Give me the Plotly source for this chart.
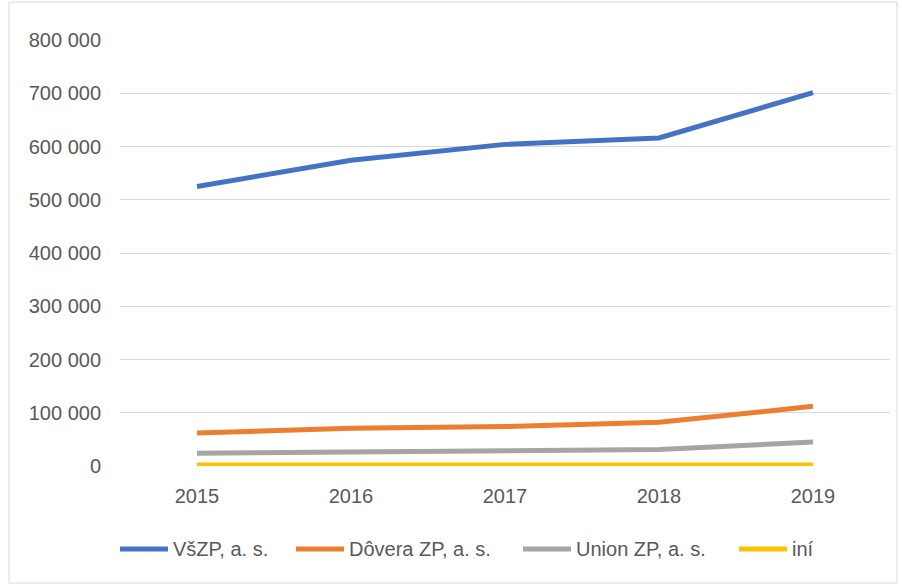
import plotly.graph_objects as go

years = ["2015", "2016", "2017", "2018", "2019"]
vszp = [525000, 574000, 604000, 616000, 701000]
dovera = [62000, 71000, 74000, 82000, 112000]
union = [24000, 26000, 28000, 31000, 45000]
ini = [2000, 1500, 2000, 2000, 2000]

names = ["VšZP, a. s.", "Dôvera ZP, a. s.", "Union ZP, a. s.", "iní"]
values = [vszp, dovera, union, ini]
colors = ["#4472C4", "#ED7D31", "#A5A5A5", "#FFC000"]

tickvals = [0, 100000, 200000, 300000, 400000, 500000, 600000, 700000, 800000]
ticktext = ["0", "100 000", "200 000", "300 000", "400 000", "500 000", "600 000", "700 000", "800 000"]

FONT = "Liberation Sans, Arial, sans-serif"
TXT = "#595959"

fig = go.Figure()
for name, vals, color in zip(names, values, colors):
    fig.add_trace(go.Scatter(x=years, y=vals, name=name, mode="lines",
                             line=dict(color=color, width=5), showlegend=False))

W, H = 902, 585
ml, mr, mt, mb = 120, 12, 40, 119
pw, ph = W - ml - mr, H - mt - mb

def px_x(x):
    return (x - ml) / pw

def px_y(y):
    return (H - mb - y) / ph

# custom legend (line samples + labels) placed like the reference
legend_starts = [118, 294, 521, 737]
leg_y = 549
shapes = [dict(type="rect", xref="paper", yref="paper",
               x0=px_x(9), x1=px_x(897), y0=px_y(583), y1=px_y(2),
               line=dict(color="#D9D9D9", width=1), layer="below")]
annotations = []
for name, color, x0 in zip(names, colors, legend_starts):
    shapes.append(dict(type="line", xref="paper", yref="paper",
                       x0=px_x(x0 + 2), x1=px_x(x0 + 50), y0=px_y(leg_y), y1=px_y(leg_y),
                       line=dict(color=color, width=5)))
    annotations.append(dict(xref="paper", yref="paper", x=px_x(x0 + 53), y=px_y(leg_y),
                            xanchor="left", yanchor="middle", text=name, showarrow=False,
                            font=dict(family=FONT, size=20, color=TXT)))

fig.update_layout(
    width=W, height=H,
    margin=dict(l=ml, r=mr, t=mt, b=mb, autoexpand=False),
    paper_bgcolor="white", plot_bgcolor="white",
    font=dict(family=FONT, size=20, color=TXT),
    showlegend=False,
    xaxis=dict(type="category", showgrid=False, zeroline=False, showline=False,
               ticks="", ticklabelstandoff=16, range=[-0.5, 4.5]),
    yaxis=dict(range=[0, 800000], tickvals=tickvals, ticktext=ticktext,
               showgrid=True, gridcolor="#D9D9D9", gridwidth=1.3, zeroline=False,
               showline=False, ticks="", ticklabelstandoff=18),
    shapes=shapes,
    annotations=annotations,
)

fig.write_html("out.html", config={"displayModeBar": False},
               post_script="document.body.style.margin='0px';")
